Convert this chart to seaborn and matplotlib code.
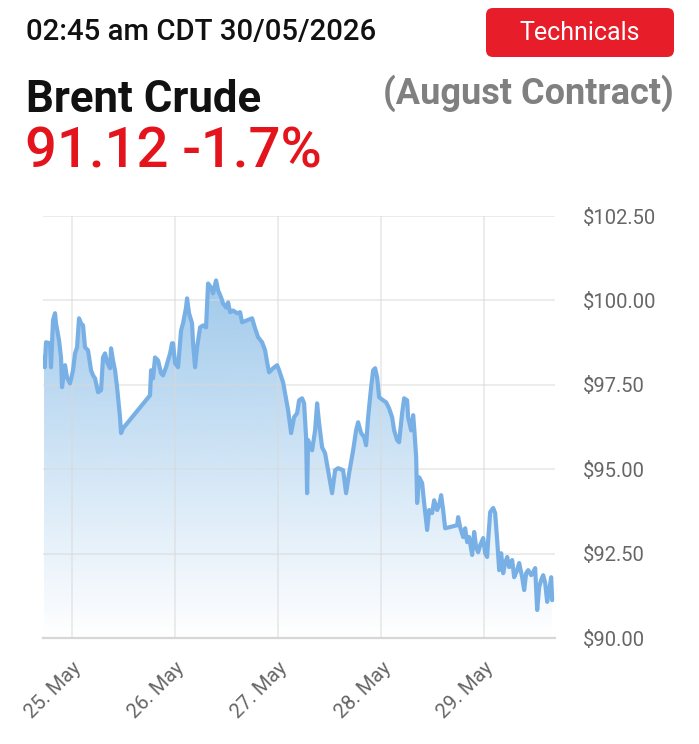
import numpy as np
import pandas as pd
import matplotlib
matplotlib.use("Agg")
import matplotlib.pyplot as plt
import seaborn as sns
from matplotlib.patches import FancyBboxPatch, Polygon
from matplotlib.transforms import Bbox

# ---------------- data (hours after 25 May 00:00, price in USD) ----------------
hours = [-6.52, -6.36, -6.06, -5.13, -4.89, -4.43, -3.96, -3.73, -3.03, -2.56,
         -2.33, -1.63, -1.17, -0.47, 0.23, 0.70, 1.17, 1.63, 2.10, 2.56,
         3.03, 3.73, 4.43, 4.89, 5.36, 6.06, 6.76, 7.22, 7.69, 8.16,
         8.85, 9.09, 9.55, 10.02, 10.49, 11.18, 11.42, 11.88, 18.17, 18.41,
         18.87, 19.34, 20.04, 20.74, 21.20, 21.90, 22.84, 23.30, 23.53, 24.00,
         24.70, 25.40, 25.86, 26.56, 26.80, 27.26, 27.96, 28.19, 28.66, 29.13,
         29.83, 30.52, 31.22, 31.69, 32.39, 32.85, 33.55, 34.02, 34.72, 35.18,
         35.88, 36.35, 36.82, 37.51, 38.45, 39.15, 39.61, 40.78, 41.94, 42.64,
         43.34, 44.27, 44.97, 45.44, 45.90, 46.84, 47.77, 48.23, 49.17, 49.63,
         50.33, 51.03, 51.73, 52.43, 52.89, 53.59, 54.06, 54.52, 54.76, 54.99,
         55.92, 56.62, 57.09, 57.55, 58.25, 58.95, 59.65, 60.58, 61.28, 61.98,
         63.15, 63.84, 64.54, 65.48, 66.17, 66.64, 67.34, 68.04, 68.50, 68.97,
         69.67, 70.14, 70.60, 71.07, 71.53, 72.47, 73.17, 73.86, 74.56, 75.03,
         75.73, 76.19, 76.89, 77.36, 78.06, 78.29, 78.99, 79.46, 79.69, 80.16,
         80.39, 80.85, 81.55, 82.02, 82.72, 83.18, 83.88, 84.35, 85.05, 85.51,
         85.98, 86.45, 86.91, 89.71, 89.94, 90.41, 91.11, 91.57, 92.04, 92.50,
         93.20, 93.67, 94.14, 94.60, 95.07, 95.77, 96.23, 96.70, 96.93, 97.40,
         98.10, 98.56, 99.03, 99.50, 99.96, 100.43, 100.89, 101.36, 101.83, 102.52,
         102.99, 103.69, 104.15, 104.85, 105.32, 105.78, 106.25, 106.95, 107.42, 107.88,
         108.35, 108.82, 109.28, 109.75, 110.21, 110.68, 111.15, 111.61, 111.84]
price = [98.31, 98.02, 98.76, 98.73, 98.02, 99.41, 99.62, 99.32, 98.82, 98.31,
         97.43, 98.08, 97.72, 97.54, 97.93, 98.43, 98.61, 99.47, 99.32, 99.26,
         98.61, 98.52, 97.93, 97.78, 97.69, 97.28, 97.34, 98.31, 98.43, 98.17,
         97.99, 98.58, 98.22, 97.93, 97.43, 96.54, 96.07, 96.21, 97.19, 97.93,
         97.69, 98.31, 98.22, 97.84, 97.78, 98.02, 98.43, 98.73, 98.73, 98.14,
         98.02, 99.11, 99.32, 99.79, 100.06, 99.62, 99.32, 98.73, 98.02, 98.61,
         99.20, 99.26, 99.20, 100.50, 100.38, 100.21, 100.59, 100.30, 100.09, 99.91,
         99.79, 99.94, 99.65, 99.70, 99.62, 99.65, 99.35, 99.41, 99.47, 99.17,
         98.91, 98.76, 98.52, 98.17, 97.87, 97.99, 98.08, 97.93, 97.57, 97.25,
         96.75, 96.07, 96.54, 96.66, 97.04, 97.10, 96.95, 95.95, 94.29, 95.86,
         95.56, 96.15, 96.95, 96.36, 95.65, 95.47, 94.97, 94.29, 94.97, 95.03,
         94.97, 94.29, 94.88, 95.56, 96.15, 96.39, 96.07, 95.95, 95.71, 96.54,
         97.43, 97.93, 97.99, 97.72, 97.13, 97.04, 96.98, 96.80, 96.54, 96.15,
         95.86, 95.80, 96.66, 97.10, 97.04, 96.54, 96.15, 96.60, 96.24, 95.36,
         94.00, 94.76, 94.59, 94.00, 93.20, 93.79, 93.70, 94.08, 93.79, 93.93,
         94.23, 93.79, 93.25, 93.34, 93.58, 93.28, 92.99, 93.25, 92.84, 92.99,
         92.46, 93.14, 92.69, 92.54, 92.75, 92.96, 92.51, 92.40, 92.90, 93.73,
         93.85, 93.70, 92.90, 92.01, 92.51, 91.92, 92.22, 92.40, 92.10, 92.31,
         91.80, 92.01, 92.22, 91.80, 91.42, 91.92, 92.01, 91.86, 91.95, 92.07,
         90.83, 91.51, 91.72, 91.86, 91.63, 91.07, 91.42, 91.80, 91.12]

tick_hours = [0, 24, 48, 72, 96]
tick_labels = ["25. May", "26. May", "27. May", "28. May", "29. May"]
y_ticks = [90.0, 92.5, 95.0, 97.5, 100.0, 102.5]
y_tick_labels = ["$90.00", "$92.50", "$95.00", "$97.50", "$100.00", "$102.50"]

title_time = "02:45 am CDT 30/05/2026"
title_name = "Brent Crude"
title_quote = "91.12 -1.7%"
title_contract = "(August Contract)"
button_text = "Technicals"

# ---------------- style ----------------
sns.set_theme(style="white")
plt.rcParams["font.family"] = ["Roboto", "DejaVu Sans"]

W, H = 699, 744
fig = plt.figure(figsize=(W / 100, H / 100), dpi=100)
fig.patch.set_facecolor("white")

def fx(x):
    return x / W

def fy(y):
    return 1 - y / H

ax_left, ax_right, ax_top, ax_bottom = 43, 555, 216, 638
ax = fig.add_axes([fx(ax_left), fy(ax_bottom), (ax_right - ax_left) / W, (ax_bottom - ax_top) / H])
ax.set_facecolor("white")

xmin = -6.76
xmax = 112.5
ymin, ymax = 90.0, 102.5

df = pd.DataFrame({"hours": hours, "price": price})
sns.lineplot(data=df, x="hours", y="price", ax=ax, color="#78b0e6", lw=3.0,
             zorder=4, solid_joinstyle="round", solid_capstyle="round")

# gradient area fill clipped to the series polygon
n = 256
grad = np.zeros((n, 1, 4))
grad[:, 0, 0] = 124 / 255
grad[:, 0, 1] = 181 / 255
grad[:, 0, 2] = 228 / 255
grad[:, 0, 3] = np.linspace(0.0, 0.85, n)
im = ax.imshow(grad, extent=[xmin, xmax, ymin, ymax], origin="lower",
               aspect="auto", zorder=2, interpolation="bilinear")
verts = list(zip(hours, price)) + [(hours[-1], ymin), (hours[0], ymin)]
poly = Polygon(verts, closed=True, facecolor="none", edgecolor="none")
ax.add_patch(poly)
im.set_clip_path(poly)

ax.set_xlim(xmin, xmax)
ax.set_ylim(ymin, ymax)

# grid (drawn faintly over the area, as in the reference)
for h in tick_hours:
    ax.axvline(h, color="#d8d8d8", alpha=0.6, lw=1.1, zorder=3)
for v in y_ticks[1:]:
    ax.axhline(v, color="#d8d8d8", alpha=0.6, lw=1.1, zorder=3)

for s in ["top", "left", "right"]:
    ax.spines[s].set_visible(False)
ax.spines["bottom"].set_color("#d6d6d6")
ax.spines["bottom"].set_linewidth(1.6)
ax.spines["bottom"].set_zorder(5)

ax.set_xticks(tick_hours)
ax.set_xticklabels(tick_labels)
ax.set_yticks(y_ticks)
ax.set_yticklabels(y_tick_labels)
ax.yaxis.tick_right()
ax.tick_params(axis="y", length=0, pad=20, labelsize=14.5, labelcolor="#666666")
ax.tick_params(axis="x", length=12.5, width=1.1, color="#d6d6d6", pad=2,
               labelsize=14.5, labelcolor="#666666", direction="out")
for lab in ax.get_xticklabels():
    lab.set_rotation(45)
    lab.set_ha("right")
    lab.set_va("top")
    lab.set_rotation_mode("anchor")
ax.set_xlabel("")
ax.set_ylabel("")

# clip the first date label at the container edge
fig.canvas.draw()
clipbox = Bbox.from_extents(20, 0, W, H)
for lab in ax.get_xticklabels():
    lab.set_clip_box(clipbox)
    lab.set_clip_on(True)

# ---------------- header ----------------
fig.text(fx(26), fy(40), title_time, fontsize=21.2, fontweight="medium",
         color="#111111", ha="left", va="baseline")
fig.text(fx(26), fy(112), title_name, fontsize=31.5, fontweight="bold",
         color="#111111", ha="left", va="baseline")
fig.text(fx(674), fy(104), title_contract, fontsize=26, fontweight="bold",
         color="#808080", ha="right", va="baseline")
fig.text(fx(25), fy(168), title_quote, fontsize=40.5, fontweight="medium",
         color="#e3141c", ha="left", va="baseline")

btn = FancyBboxPatch((486, H - 57), 188, 49,
                     boxstyle="round,pad=0,rounding_size=7",
                     transform=None, facecolor="#e81d2a", edgecolor="none", zorder=3)
fig.add_artist(btn)
fig.text(fx(580), fy(33), button_text, fontsize=18, color="white",
         ha="center", va="center", zorder=4)

fig.savefig("out.png", dpi=100, facecolor="white")
